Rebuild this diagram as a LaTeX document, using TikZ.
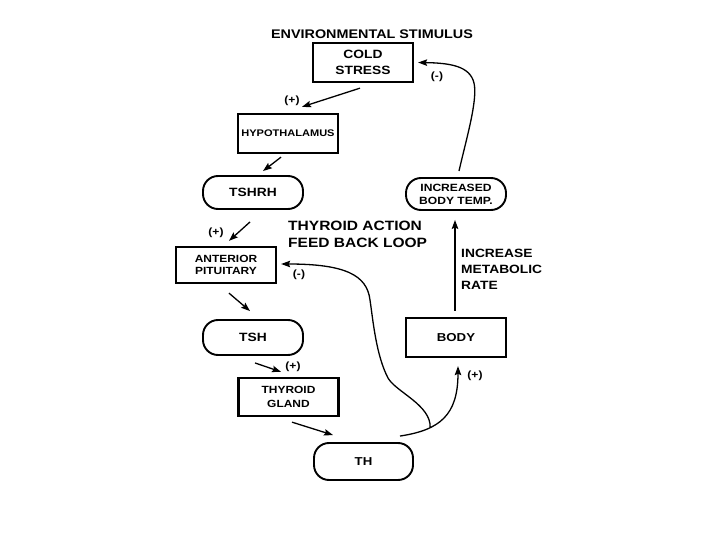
\documentclass[tikz,border=0pt]{standalone}
\usepackage{fontspec}
\setmainfont[FakeStretch=1.15]{Liberation Sans}
\usetikzlibrary{arrows.meta}
\usetikzlibrary{calc}

\begin{document}
\begin{tikzpicture}[x=1pt,y=1pt,yscale=-1,xscale=1,
  sqbox/.style={draw,line width=2.3pt,minimum width=100pt,inner sep=0pt,align=center},
  pill/.style={draw,line width=1.9pt,rounded corners=15pt,minimum width=100pt,inner sep=0pt,align=center},
  arr/.style={line width=1.3pt,-{Stealth[length=9pt,width=6.5pt,inset=1.5pt]}},
  sgn/.style={inner sep=0pt,font=\bfseries\fontsize{10.5}{12}\selectfont}]
\useasboundingbox[fill=white] (0,0) rectangle (720,540);

% Text Node
\node[font=\bfseries\fontsize{12.5}{15}\selectfont] (title) at (372,34) {ENVIRONMENTAL STIMULUS};

%Shape: Rectangle
\node[sqbox,minimum height=39pt,font=\bfseries\fontsize{12}{16.5}\selectfont] (cold) at (363,62.5) {COLD\\STRESS};
%Shape: Rectangle
\node[sqbox,minimum height=39pt,font=\bfseries\fontsize{9.6}{12}\selectfont] (hypo) at (288,133.5) {HYPOTHALAMUS};
%Shape: Rounded Rect
\node[pill,minimum height=33pt,font=\bfseries\fontsize{12}{14}\selectfont] (tshrh) at (253,192.5) {TSHRH};
%Shape: Rectangle
\node[sqbox,minimum height=36pt,font=\bfseries\fontsize{10.4}{12}\selectfont] (antpit) at (226,265) {ANTERIOR\\PITUITARY};
%Shape: Rounded Rect
\node[pill,minimum height=35pt,font=\bfseries\fontsize{12}{14}\selectfont] (tsh) at (253,337.5) {TSH};
%Shape: Rectangle
\node[sqbox,minimum height=38pt,font=\bfseries\fontsize{10.4}{14}\selectfont] (thyroid) at (288.5,397) {THYROID\\GLAND};
%Shape: Rounded Rect
\node[pill,minimum width=99pt,minimum height=37pt,font=\bfseries\fontsize{11.5}{14}\selectfont] (th) at (363.5,461.5) {TH};
%Shape: Rectangle
\node[sqbox,minimum height=39pt,font=\bfseries\fontsize{11.5}{14}\selectfont] (body) at (456,337.5) {BODY};
%Shape: Rounded Rect
\node[pill,minimum height=32pt,font=\bfseries\fontsize{10.5}{13}\selectfont] (temp) at (456,194) {INCREASED\\BODY TEMP.};

% Text Node
\node[anchor=north west,inner sep=0pt,align=left,font=\bfseries\fontsize{13.5}{17}\selectfont] (loop) at (288,221) {THYROID ACTION\\FEED BACK LOOP};
% Text Node
\node[anchor=north west,inner sep=0pt,align=left,font=\bfseries\fontsize{12}{16}\selectfont] (rate) at (461,249) {INCREASE\\METABOLIC\\RATE};

%Straight Lines
\draw[arr] ($(cold.south)+(-3,5)$) -- ($(hypo.north)+(14,-6)$);
\draw[arr] ($(hypo.south)+(-7,3)$) -- ($(tshrh.north)+(10,-4)$);
\draw[arr] ($(tshrh.south)+(-3,12)$) -- ($(antpit.north)+(3,-5)$);
\draw[arr] ($(antpit.south)+(3,9)$) -- ($(tsh.north)+(-3,-8)$);
\draw[arr] ($(tsh.south)+(2,7)$) -- ($(thyroid.north)+(-7.5,-5)$);
\draw[arr] ($(thyroid.south)+(3.5,5)$) -- ($(th.north)+(-30.5,-7)$);
\draw[arr] ($(body.north)+(-1,-6)$) -- ($(temp.south)+(-1,9)$);

%Curve Lines
\draw[arr] ($(th.north)+(36.5,-6)$) .. controls (440,430) and (458,415) .. ($(body.south)+(2,8)$) coordinate[pos=0.3] (split);
%Curve Lines
\draw[arr] (split) .. controls (431,405) and (396,392) .. (388,378) .. controls (376,355) and (373,320) .. (370,300) .. controls (367,275) and (345,264) .. ($(antpit.east)+(4,-1)$);
%Curve Lines
\draw[arr] ($(temp.north)+(3,-6)$) .. controls (466,140) and (478,100) .. (474,83) .. controls (470,66) and (450,63) .. ($(cold.east)+(4,0)$);

% Text Node
\node[sgn] (s1) at (292,101) {(+)};
\node[sgn] (s2) at (216,233) {(+)};
\node[sgn] (s3) at (299,275) {(-)};
\node[sgn] (s4) at (293,367) {(+)};
\node[sgn] (s5) at (475,376) {(+)};
\node[sgn] (s6) at (437,77) {(-)};

\end{tikzpicture}
\end{document}
